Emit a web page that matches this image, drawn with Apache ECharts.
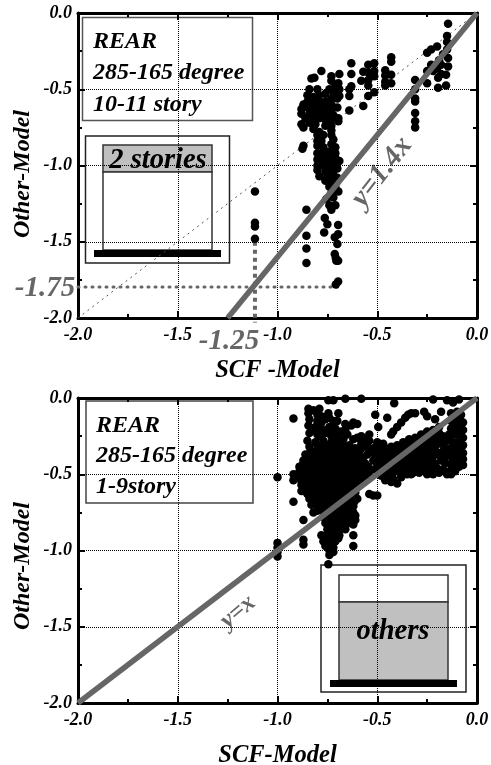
<!DOCTYPE html>
<html><head><meta charset="utf-8">
<style>html,body{margin:0;padding:0;background:#fff}#c{width:491px;height:765px}</style>
<script src="https://cdn.jsdelivr.net/npm/echarts@6/dist/echarts.min.js"></script></head>
<body><div id="c"></div>
<script>
const topPoints=[[-.145,-.07],[-.15,-.15],[-.15,-.19],[-.15,-.24],[-.2,-.22],[-.23,-.24],[-.25,-.26],[-.17,-.27],[-.145,-.295],[-.19,-.31],[-.145,-.35],[-.23,-.34],[-.18,-.34],[-.2,-.36],[-.25,-.38],[-.22,-.38],[-.18,-.4],[-.155,-.405],[-.195,-.425],[-.155,-.475],[-.195,-.49],[-.25,-.46],[-.31,-.44],[-.31,-.5],[-.31,-.56],[-.31,-.58],[-.31,-.655],[-.31,-.71],[-.31,-.75],
[-.43,-.29],[-.43,-.32],[-.43,-.405],[-.43,-.46],[-.46,-.375],[-.46,-.41],[-.46,-.45],[-.46,-.475],[-.515,-.33],[-.515,-.38],[-.515,-.415],[-.515,-.52],[-.545,-.34],[-.57,-.385],[-.545,-.39],[-.545,-.44],[-.545,-.475],[-.58,-.445],[-.545,-.545],[-.57,-.61],[-.63,-.33],[-.63,-.4],[-.63,-.48],[-.64,-.5],[-.64,-.545],[-.64,-.64],[-.69,-.4],[-.695,-.46],[-.69,-.5],[-.69,-.545],[-.695,-.69],[-.695,-.71],[-.73,-.415],[-.73,-.445],[-.71,-.47],[-.78,-.38],[-.815,-.425],[-.83,-.43],
[-.84,-.5],[-.8,-.5],[-.74,-.5],[-.72,-.52],[-.7,-.56],[-.85,-.54],[-.82,-.55],[-.79,-.54],[-.76,-.53],[-.73,-.56],[-.87,-.6],[-.85,-.58],[-.82,-.58],[-.79,-.58],[-.76,-.58],[-.73,-.6],[-.7,-.62],[-.88,-.63],[-.85,-.62],[-.82,-.61],[-.79,-.62],[-.76,-.62],[-.73,-.64],[-.88,-.66],[-.84,-.66],[-.81,-.64],[-.78,-.66],[-.75,-.66],[-.72,-.67],[-.86,-.69],[-.82,-.68],[-.79,-.69],[-.76,-.7],[-.73,-.7],[-.88,-.73],[-.87,-.75],[-.84,-.72],[-.81,-.73],[-.76,-.74],[-.73,-.74],[-.82,-.76],[-.79,-.78],[-.73,-.77],[-.8,-.8],[-.77,-.8],[-.73,-.8],[-.72,-.83],[-.87,-.87],[-.875,-.89],[-.8,-.84],[-.78,-.84],[-.8,-.87],[-.77,-.88],[-.73,-.86],[-.71,-.88],
[-.8,-.92],[-.78,-.92],[-.74,-.91],[-.71,-.92],[-.8,-.96],[-.78,-.96],[-.74,-.95],[-.71,-.95],[-.69,-.97],[-.8,-1],[-.77,-1],[-.74,-.99],[-.71,-.99],[-.8,-1.03],[-.76,-1.04],[-.72,-1.03],[-.7,-1.02],[-.79,-1.07],[-.75,-1.07],[-.72,-1.06],[-.7,-1.08],[-.76,-1.1],[-.73,-1.1],[-.71,-1.11],[-.74,-1.14],[-.71,-1.14],[-.695,-1.17],[-.73,-1.18],[-.755,-1.22],[-.72,-1.21],[-.74,-1.26],[-.71,-1.26],[-.73,-1.29],
[-.78,-.98],[-.76,-.97],[-.76,-1.01],[-.74,-1.02],[-.72,-1],[-.74,-1.06],[-.73,-1.08],[-.72,-1.12],[-.75,-.93],[-.72,-.95],[-.78,-.6],[-.8,-.6],[-.77,-.64],[-.75,-.6],[-.83,-.64],[-.8,-.66],[-.77,-.68],[-.75,-.7],
[-1.113,-1.17],[-1.113,-1.375],[-1.113,-1.4],[-1.113,-1.48],[-.855,-1.29],[-.855,-1.46],[-.855,-1.545],[-.855,-1.64],[-.763,-1.345],[-.75,-1.385],[-.766,-1.44],[-.696,-1.39],[-.696,-1.45],[-.713,-1.47],[-.7,-1.515],[-.713,-1.58],[-.708,-1.605],[-.705,-1.625],[-.696,-1.625],[-.696,-1.76],[-.708,-1.78]];
const bottomPoints=[[-.92,-.135],[-.845,-.07],[-.82,-.08],[-.845,-.1],[-.84,-.14],[-.845,-.18],[-.79,-.07],[-.745,-.1],[-.695,-.1],[-.745,-.015],[-.72,-.015],[-.66,-.005],[-.58,-.005],[-.415,-.035],[-.51,-.11],[-.45,-.13],[-.495,-.19],[-.54,-.24],[-.22,-.01],[-.15,-.015],[-.09,-.01],[-.12,-.03],[-.265,-.09],[-.18,-.09],[-.345,-.11],[-.36,-.13],[-.38,-.16],[-.4,-.19],[-.42,-.22],[-.43,-.24],[-.31,-.1],[-.33,-.1],[-.25,-.12],[-.21,-.14],[-.8,-.15],[-.78,-.16],[-.76,-.14],[-.72,-.15],[-.66,-.17],[-.63,-.18],[-.62,-.16],[-.6,-.17],[-.81,-.19],[-.78,-.2],[-.74,-.19],[-.71,-.2],[-.68,-.22],[-.66,-.21],[-.84,-.23],[-.8,-.24],[-.76,-.23],[-.73,-.25],[-.7,-.25],[-.67,-.27],[-.6,-.26],[-.57,-.27],[-.5,-.29],[-.5,-.31],[-.85,-.28],[-.81,-.29],[-.77,-.28],[-.73,-.29],[-.69,-.31],[-.64,-.31],[-.58,-.3],[-.55,-.32],[-.84,-.32],
[-.86,-.37],[-.83,-.35],[-.8,-.34],[-.77,-.33],[-.74,-.34],[-.71,-.35],[-.68,-.34],[-.65,-.35],[-.62,-.36],[-.59,-.35],[-.87,-.41],[-.84,-.39],[-.81,-.38],[-.78,-.38],[-.75,-.38],[-.72,-.39],[-.69,-.38],[-.66,-.39],[-.63,-.39],[-.6,-.39],[-.57,-.39],[-.89,-.45],[-.86,-.43],[-.83,-.42],[-.8,-.42],[-.77,-.42],[-.74,-.43],[-.71,-.42],[-.68,-.43],[-.65,-.43],[-.62,-.43],[-.59,-.43],[-.56,-.43],[-.89,-.48],[-.86,-.47],[-.83,-.46],[-.8,-.46],[-.77,-.47],[-.74,-.46],[-.71,-.47],[-.68,-.47],[-.65,-.47],[-.62,-.47],[-.59,-.47],[-.56,-.47],[-.53,-.47],[-.92,-.5],[-.92,-.54],[-.89,-.53],[-.86,-.51],[-.83,-.5],[-.8,-.5],[-.77,-.51],[-.74,-.5],[-.71,-.51],[-.68,-.5],[-.65,-.51],[-.62,-.51],[-.59,-.5],[-.56,-.51],[-.88,-.57],[-.85,-.55],[-.82,-.54],[-.79,-.54],[-.76,-.55],[-.73,-.54],[-.7,-.55],[-.67,-.54],[-.64,-.55],[-.61,-.54],[-.58,-.54],[-.88,-.61],[-.85,-.59],[-.82,-.58],[-.79,-.58],[-.76,-.59],[-.73,-.58],[-.7,-.59],[-.67,-.58],[-.64,-.59],[-.61,-.58],[-.85,-.63],[-.82,-.62],[-.79,-.62],[-.76,-.63],[-.73,-.62],[-.7,-.63],[-.67,-.62],[-.64,-.63],[-.61,-.62],[-.84,-.66],[-.81,-.66],[-.78,-.66],[-.75,-.67],[-.72,-.66],[-.69,-.67],[-.66,-.66],[-.63,-.67],[-.6,-.66],[-.92,-.68],[-.83,-.7],[-.8,-.7],[-.77,-.7],[-.74,-.71],[-.71,-.7],[-.68,-.71],[-.65,-.7],[-.62,-.71],[-.8,-.74],[-.77,-.74],[-.74,-.75],[-.71,-.74],[-.68,-.75],[-.65,-.74],[-.62,-.75],[-.82,-.75],[-.77,-.78],[-.74,-.79],[-.71,-.78],[-.68,-.79],[-.65,-.78],[-.61,-.77],[-.61,-.8],[-.87,-.8],[-.76,-.82],[-.73,-.83],[-.7,-.82],[-.67,-.83],[-.64,-.82],[-.62,-.83],[-.75,-.86],[-.72,-.87],[-.69,-.86],[-.66,-.86],[-.78,-.9],[-.75,-.9],[-.72,-.91],[-.69,-.9],[-.62,-.9],[-.87,-.93],[-.87,-.96],[-.77,-.94],[-.74,-.95],[-.71,-.94],[-.76,-.97],[-.72,-.98],[-.62,-.97],[-.74,-1],[-.72,-1.01],[-.74,-1.03],[-.745,-1.09],[-1,-.52],[-1,-.95],[-1,-.98],[-1,-1.01],[-1,-1.04],
[-.85,-.37],[-.815,-.36],[-.785,-.36],[-.755,-.36],[-.725,-.37],[-.695,-.36],[-.665,-.37],[-.635,-.37],[-.605,-.37],[-.855,-.41],[-.825,-.4],[-.795,-.4],[-.765,-.4],[-.735,-.41],[-.705,-.4],[-.675,-.41],[-.645,-.41],[-.615,-.41],[-.585,-.41],[-.875,-.44],[-.845,-.44],[-.815,-.44],[-.785,-.44],[-.755,-.45],[-.725,-.44],[-.695,-.45],[-.665,-.45],[-.635,-.45],[-.605,-.45],[-.575,-.45],[-.545,-.45],[-.875,-.49],[-.845,-.48],[-.815,-.48],[-.785,-.49],[-.755,-.48],[-.725,-.49],[-.695,-.49],[-.665,-.49],[-.635,-.49],[-.605,-.49],[-.575,-.49],[-.545,-.49],[-.875,-.53],[-.845,-.53],[-.815,-.52],[-.785,-.52],[-.755,-.53],[-.725,-.52],[-.695,-.53],[-.665,-.52],[-.635,-.53],[-.605,-.52],[-.575,-.52],[-.865,-.58],[-.835,-.56],[-.805,-.56],[-.775,-.57],[-.745,-.56],[-.715,-.57],[-.685,-.56],[-.655,-.57],[-.625,-.56],[-.595,-.56],[-.865,-.61],[-.835,-.6],[-.805,-.6],[-.775,-.61],[-.745,-.6],[-.715,-.61],[-.685,-.6],[-.655,-.61],[-.625,-.6],[-.835,-.64],[-.805,-.64],[-.775,-.65],[-.745,-.64],[-.715,-.65],[-.685,-.64],[-.655,-.65],[-.625,-.64],[-.825,-.68],[-.795,-.68],[-.765,-.69],[-.735,-.68],[-.705,-.69],[-.675,-.68],[-.645,-.69],[-.615,-.68],[-.785,-.72],[-.755,-.73],[-.725,-.72],[-.695,-.73],[-.665,-.72],[-.635,-.73],[-.755,-.77],[-.725,-.76],[-.695,-.77],[-.665,-.76],[-.635,-.77],[-.745,-.81],[-.715,-.8],[-.685,-.81],[-.655,-.8],[-.735,-.85],[-.705,-.84],[-.675,-.85],[-.735,-.89],[-.705,-.88],[-.755,-.92],[-.725,-.93],[-.695,-.92],[-.745,-.97],
[-.82,-.21],[-.79,-.25],[-.75,-.21],[-.72,-.23],[-.77,-.3],[-.8,-.31],[-.7,-.28],[-.75,-.31],[-.71,-.31],[-.67,-.31],[-.61,-.33],[-.58,-.33],[-.54,-.35],[-.52,-.33],[-.55,-.37],
[-.52,-.36],[-.49,-.34],[-.46,-.33],[-.43,-.32],[-.4,-.31],[-.37,-.29],[-.34,-.27],[-.31,-.26],[-.28,-.24],[-.25,-.22],[-.22,-.21],[-.19,-.19],[-.52,-.41],[-.49,-.38],[-.46,-.37],[-.43,-.36],[-.4,-.35],[-.37,-.33],[-.34,-.31],[-.31,-.3],[-.28,-.28],[-.25,-.26],[-.22,-.25],[-.19,-.23],[-.5,-.44],[-.47,-.42],[-.44,-.4],[-.41,-.39],[-.38,-.38],[-.35,-.36],[-.32,-.34],[-.29,-.32],[-.26,-.31],[-.23,-.29],[-.2,-.27],[-.17,-.25],[-.5,-.48],[-.47,-.46],[-.44,-.45],[-.41,-.44],[-.38,-.42],[-.35,-.41],[-.3,-.38],[-.27,-.36],[-.24,-.34],[-.21,-.32],[-.18,-.3],[-.15,-.28],[-.48,-.51],[-.45,-.5],[-.42,-.49],[-.39,-.47],[-.36,-.45],[-.33,-.44],[-.3,-.43],[-.27,-.41],[-.24,-.39],[-.2,-.37],[-.17,-.35],[-.46,-.54],[-.43,-.55],[-.4,-.56],[-.42,-.53],[-.38,-.52],[-.35,-.5],[-.32,-.49],[-.3,-.48],[-.26,-.48],[-.23,-.47],[-.2,-.46],[-.22,-.42],[-.18,-.41],[-.16,-.43],[-.17,-.47],[-.15,-.49],[-.54,-.63],[-.52,-.64],[-.5,-.64],
[-.13,-.1],[-.1,-.09],[-.08,-.11],[-.13,-.15],[-.1,-.14],[-.07,-.16],[-.13,-.2],[-.1,-.19],[-.07,-.21],[-.14,-.24],[-.11,-.24],[-.07,-.26],[-.13,-.28],[-.1,-.29],[-.07,-.31],[-.13,-.33],[-.1,-.34],[-.07,-.36],[-.13,-.38],[-.1,-.39],[-.07,-.4],[-.13,-.43],[-.1,-.43],[-.08,-.42],[-.13,-.47],[-.11,-.45],
[-.115,-.12],[-.085,-.14],[-.115,-.17],[-.085,-.19],[-.115,-.22],[-.09,-.24],[-.115,-.31],[-.085,-.32],[-.115,-.36],[-.085,-.38],[-.115,-.41],[-.14,-.36],[-.16,-.33],[-.16,-.39],[-.19,-.36],[-.22,-.34],[-.25,-.31],[-.28,-.33],[-.31,-.35],[-.34,-.38],[-.28,-.39],[-.25,-.38],[-.31,-.4],[-.34,-.42],[-.37,-.38],[-.4,-.4],[-.43,-.42],[-.46,-.42],[-.49,-.43],[-.4,-.44],[-.37,-.46],[-.43,-.47],[-.25,-.43],[-.22,-.38],[-.3,-.46],[-.34,-.47],[-.28,-.45],
[-.38,-.5],[-.33,-.5],[-.29,-.49],[-.25,-.5],[-.22,-.5],[-.19,-.49],[-.15,-.5],[-.13,-.5],[-.11,-.48],[-.09,-.45],[-.07,-.44],[-.26,-.45],[-.21,-.44],[-.8,-.11],[-.78,-.12],[-.74,-.13],[-.7,-.15],[-.65,-.24],[-.62,-.27],[-.58,-.25],[-.54,-.28],[-.47,-.3]];
const fitTop=[[-1.25,-2],[0,0]];
const refTop=[[-2,-2],[0,0]];
const guideV=[[-1.113,-1.5],[-1.113,-2.03]];
const guideH=[[-2,-1.797],[-.7,-1.797]];
const fitBottom=[[-2,-2],[0,0]];
const gridsPos=[13,398];
const xNames=['SCF -Model','SCF-Model'];
const yName='Other-Model';
const FF='"Liberation Serif"';
const font={fontFamily:FF,fontWeight:'bold',fontStyle:'italic'};
const common={min:-2,max:0,interval:.5,axisLine:{onZero:false,lineStyle:{color:'#000',width:3}},
 axisTick:{inside:true,length:7,lineStyle:{color:'#000',width:2}},minorTick:{show:true,splitNumber:2,length:4,lineStyle:{color:'#000',width:2}}};
const xAxis=[],yAxis=[];
gridsPos.forEach((t,i)=>{
 xAxis.push({...common,gridIndex:i,type:'value',position:'bottom',name:xNames[i],nameLocation:'middle',nameGap:40,
  nameTextStyle:{...font,fontSize:24.5,color:'#000'},axisLabel:{...font,fontSize:18,color:'#000',margin:8,formatter:v=>v.toFixed(1)},
  splitLine:{show:true,lineStyle:{type:'dotted',color:'#000',width:1}}});
 xAxis.push({...common,gridIndex:i,type:'value',position:'top',axisLabel:{show:false},splitLine:{show:false}});
 yAxis.push({...common,gridIndex:i,type:'value',position:'left',axisLabel:{...font,fontSize:18,color:'#000',margin:6,formatter:v=>v.toFixed(1)},
  splitLine:{show:true,lineStyle:{type:'dotted',color:'#000',width:1}}});
 yAxis.push({...common,gridIndex:i,type:'value',position:'right',axisLabel:{show:false},splitLine:{show:false}});
});
const line=(d,g,w,type,color,z,cap)=>({type:'line',data:d,xAxisIndex:g*2,yAxisIndex:g*2,symbol:'none',silent:true,clip:false,z,
 lineStyle:{width:w,type,color,cap:cap||'butt'}});
const dots=(d,g)=>({type:'scatter',data:d,xAxisIndex:g*2,yAxisIndex:g*2,symbol:'circle',symbolSize:8.5,itemStyle:{color:'#000',opacity:1},z:3,clip:false});
const rect=(x,y,w,h,fill,stroke,lw)=>({type:'rect',shape:{x,y,width:w,height:h},style:{fill,stroke:stroke||null,lineWidth:lw||0},silent:true});
const txt=(s,x,y,size,color,align,rot)=>({type:'text',x,y,rotation:rot||0,style:{text:s,x:0,y:0,fill:color||'#000',font:`italic bold ${size}px ${FF}`,align:align||'left',verticalAlign:'middle'},silent:true});
const G='#666';
const Q=Math.PI/2;
const graphic=[
 rect(82.5,17.5,170,103,'#fff','#555',1.5),txt('REAR',93,42,24),txt('285-165 degree',93,73,24),txt('10-11 story',93,105,24),
 rect(85.5,136,144,127,'#fff','#222',1.5),rect(103,145,109,27,'#c0c0c0','#333',1.5),rect(103,172,109,78,'#fff','#333',1.5),rect(94,250,127,7,'#000'),
 txt('2 stories',158,161,28.5,'#000','center'),
 txt('-1.75',45,289,29,G,'center'),txt('-1.25',229,342,29,G,'center'),txt('y=1.4x',382,172,29,G,'center',52*Math.PI/180),
 txt(yName,23,174,24,'#000','center',Q),
 rect(86,401,167,102,'#fff','#444',1.5),txt('REAR',96,426,24),txt('285-165 degree',96,456,24),txt('1-9story',96,487,24),
 rect(321,565,145,127,'#fff','#222',1.5),rect(339,575,109,27,'#fff','#333',1.5),rect(339,602,109,78,'#c0c0c0','#333',1.5),rect(330,680,127,7,'#000'),
 txt('others',393,632,28.5,'#000','center'),
 txt('y=x',238,612,25,G,'center',40*Math.PI/180),
 txt(yName,23,566,24,'#000','center',Q)
];
const chart=echarts.init(document.getElementById('c'),null,{renderer:'canvas'});
chart.setOption({animation:false,backgroundColor:'#fff',
 grid:gridsPos.map(t=>({left:78,top:t,width:399,height:305,containLabel:false,outerBoundsMode:'none'})),
 xAxis,yAxis,graphic:{elements:graphic},
 series:[line(refTop,0,1,[2,4],'#555',2),line(guideV,0,4,[4,4],G,2),line(guideH,0,3,[1,6],G,2,'round'),dots(topPoints,0),line(fitTop,0,5.5,'solid',G,4),
  dots(bottomPoints,1),line(fitBottom,1,5.5,'solid',G,4)]});
</script></body></html>
